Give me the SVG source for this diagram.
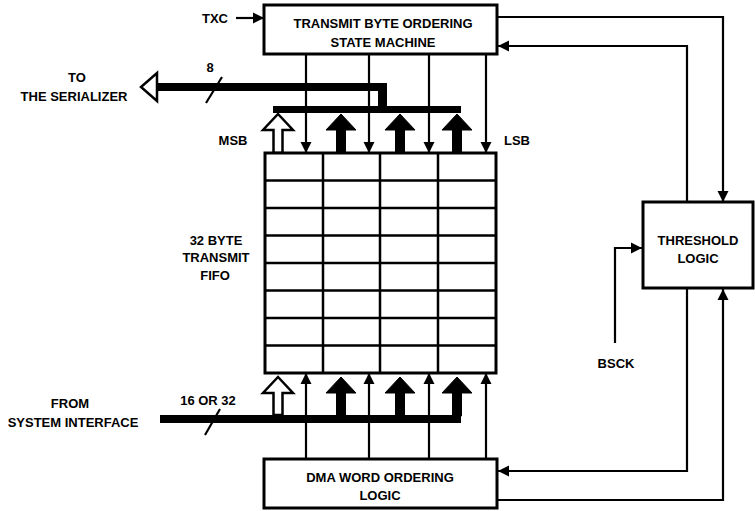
<svg xmlns="http://www.w3.org/2000/svg" width="755" height="511" viewBox="0 0 755 511">
<defs>
<style>
.box{fill:#fff;stroke:#000;stroke-width:3}
.grid{fill:none;stroke:#000;stroke-width:2.5}
.ln{fill:none;stroke:#000;stroke-width:2.2}
.arr{marker-end:url(#ah)}
.thick{fill:#000;stroke:#000;stroke-width:1}
.hollow{fill:#fff;stroke:#000;stroke-width:2.5}
.bus{fill:#000}
.t{font-family:"Liberation Sans",Arial,sans-serif;font-weight:bold;font-size:13px;text-anchor:middle;fill:#000}
</style>
<marker id="ah" markerUnits="userSpaceOnUse" markerWidth="12" markerHeight="12" refX="11" refY="6" orient="auto">
<path d="M0,0.5 L11,6 L0,11.5z" fill="#000"/>
</marker>
</defs>
<rect width="755" height="511" fill="#fff"/>

<g id="connectors">
<!-- TXC -->
<path class="ln arr" d="M236,18 H264"/>
<!-- state machine down to FIFO -->
<path class="ln arr" d="M306,54 V153"/>
<path class="ln arr" d="M369,54 V153"/>
<path class="ln arr" d="M429,54 V153"/>
<path class="ln arr" d="M486,54 V153"/>
<!-- DMA up to FIFO -->
<path class="ln arr" d="M306,459 V373"/>
<path class="ln arr" d="M369,459 V373"/>
<path class="ln arr" d="M429,459 V373"/>
<path class="ln arr" d="M486,459 V373"/>
<!-- right side routing -->
<path class="ln arr" d="M497,17 H723 V202"/>
<path class="ln arr" d="M687,202 V46 H498"/>
<path class="ln arr" d="M687,288 V471 H498"/>
<path class="ln arr" d="M497,500 H723 V289"/>
<!-- BSCK -->
<path class="ln arr" d="M615,343 V248 H642"/>

<!-- top output bus -->
<rect class="bus" x="273" y="106" width="188" height="7"/>
<rect class="bus" x="378" y="83" width="9" height="30"/>
<rect class="bus" x="155" y="83" width="232" height="8"/>
<polygon class="hollow" points="157,83 157,73 141,87 157,101 157,91"/>
<path class="ln" d="M206,103 L222,77"/>
<!-- top thick arrows -->
<polygon class="hollow" points="273.5,153 273.5,130 263,130 278,114 293,130 282.5,130 282.5,153"/>
<polygon class="thick" points="336.5,153 336.5,130 326,130 341,114 356,130 345.5,130 345.5,153"/>
<polygon class="thick" points="395.5,153 395.5,130 385,130 400,114 415,130 404.5,130 404.5,153"/>
<polygon class="thick" points="452.5,153 452.5,130 442,130 457,114 472,130 461.5,130 461.5,153"/>

<!-- bottom input bus -->
<rect class="bus" x="160" y="415" width="301" height="8"/>
<path class="ln" d="M205,435 L220,409"/>
<polygon class="hollow" points="273.5,415 273.5,393 263,393 278,377 293,393 282.5,393 282.5,415"/>
<polygon class="thick" points="336.5,416 336.5,393 326,393 341,377 356,393 345.5,393 345.5,416"/>
<polygon class="thick" points="395.5,416 395.5,393 385,393 400,377 415,393 404.5,393 404.5,416"/>
<polygon class="thick" points="452.5,416 452.5,393 442,393 457,377 472,393 461.5,393 461.5,416"/>
</g>

<g id="state-machine">
<rect class="box" x="264" y="5" width="233" height="49"/>
<text class="t" x="383" y="28">TRANSMIT BYTE ORDERING</text>
<text class="t" x="383" y="47">STATE MACHINE</text>
</g>

<g id="fifo">
<rect class="box" x="265" y="153" width="231" height="220"/>
<path class="grid" d="M323,153 V373 M380,153 V373 M438,153 V373 M265,180.5 H496 M265,208 H496 M265,235.5 H496 M265,263 H496 M265,290.5 H496 M265,318 H496 M265,345.5 H496"/>
<text class="t" x="216" y="245">32 BYTE</text>
<text class="t" x="216" y="262">TRANSMIT</text>
<text class="t" x="215" y="280">FIFO</text>
</g>

<g id="dma">
<rect class="box" x="264" y="459" width="233" height="49"/>
<text class="t" x="380" y="482">DMA WORD ORDERING</text>
<text class="t" x="380" y="500">LOGIC</text>
</g>

<g id="threshold">
<rect class="box" x="643" y="202" width="110" height="86"/>
<text class="t" x="698" y="245">THRESHOLD</text>
<text class="t" x="698" y="263">LOGIC</text>
</g>

<g id="labels">
<text class="t" x="215" y="23">TXC</text>
<text class="t" x="210" y="72">8</text>
<text class="t" x="77" y="82">TO</text>
<text class="t" x="74" y="101">THE SERIALIZER</text>
<text class="t" x="233" y="145">MSB</text>
<text class="t" x="517" y="145">LSB</text>
<text class="t" x="70" y="408">FROM</text>
<text class="t" x="73" y="427">SYSTEM INTERFACE</text>
<text class="t" x="208" y="405">16 OR 32</text>
<text class="t" x="616" y="368">BSCK</text>
</g>
</svg>
